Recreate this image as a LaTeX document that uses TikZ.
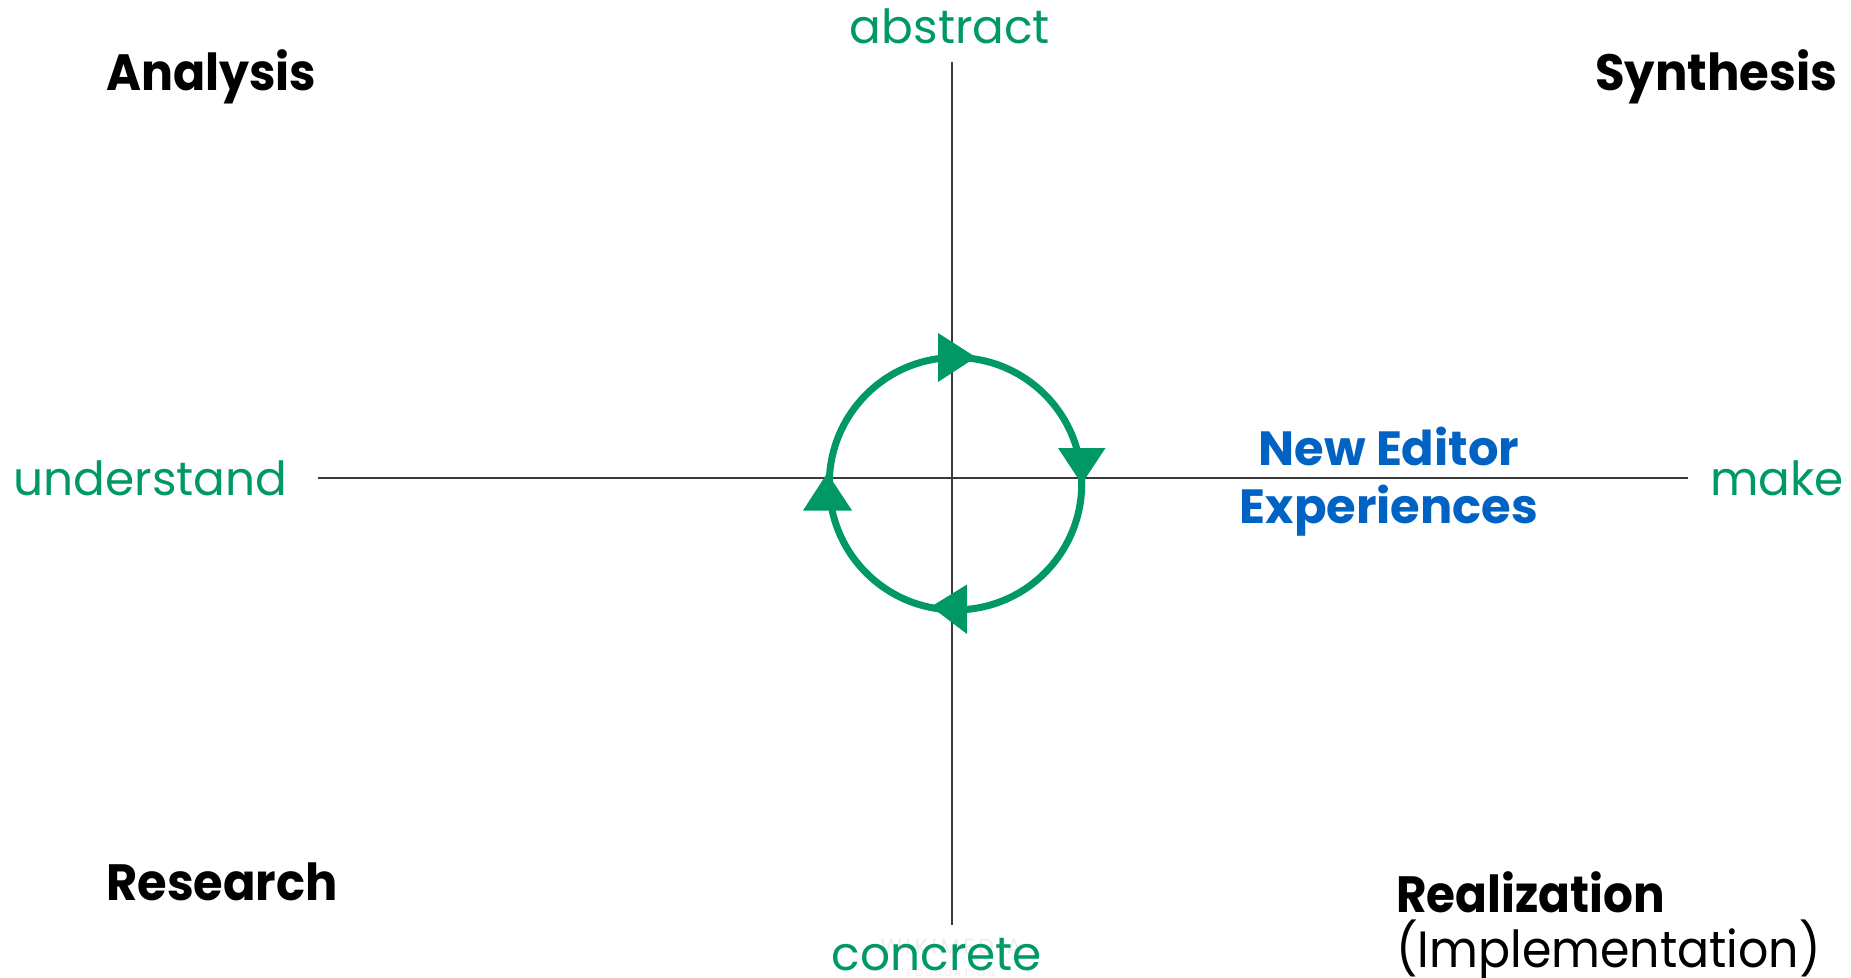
\documentclass[tikz,border=0pt]{standalone}
\usepackage{fontspec}
\setmainfont{Poppins}
\definecolor{wmgreen}{HTML}{009966}
\definecolor{wmblue}{HTML}{0063C4}
\definecolor{axisgray}{HTML}{3A3A3A}
\begin{document}
\begin{tikzpicture}[x=0.5pt,y=-0.5pt,
  quad/.style={inner sep=0pt,font=\fontsize{25.5}{30}\selectfont\bfseries,text=black},
  pole/.style={inner sep=0pt,font=\fontsize{23.5}{28}\selectfont,text=wmgreen},
  axisline/.style={draw=axisgray,line width=1pt},
  cycleline/.style={draw=wmgreen,line width=3.5pt},
  tip/.style={fill=wmgreen}]
\useasboundingbox (0,0) rectangle (1851,978);
\fill[white] (0,0) rectangle (1851,978);
% axes
\coordinate (vtop) at (951.5,62);
\coordinate (vbot) at (951.5,925);
\coordinate (hleft) at (318,478);
\coordinate (hright) at (1688,478);
\draw[axisline] (vtop) -- (vbot);
\draw[axisline] (hleft) -- (hright);
% cycle
\coordinate (c) at (955.5,483.7);
\draw[cycleline] (c) circle[radius=126.2];
\fill[tip] (938,333) -- (938,382) -- (976,357.3) -- cycle;
\fill[tip] (1058,448) -- (1105.5,448) -- (1081.7,484) -- cycle;
\fill[tip] (967,584.5) -- (967,634) -- (931,606.7) -- cycle;
\fill[tip] (803,510.5) -- (852,510.5) -- (827.3,473) -- cycle;
% quadrant labels
\node[quad,anchor=base west,xscale=0.93] (analysis) at (106,91) {Analysis};
\node[quad,anchor=base east,xscale=0.945] (synthesis) at (1838,91) {Synthesis};
\node[quad,anchor=base west,xscale=0.94] (research) at (106,900) {Research};
\node[quad,anchor=base west,xscale=0.92] (realization) at (1396,912) {Realization};
\node[inner sep=0pt,font=\fontsize{25.5}{30}\selectfont,anchor=base west,xscale=0.93] (impl) at (1396,967) {(Implementation)};
% poles
\node[pole,anchor=base] (abstract) at (950,44) {abstract};
\node[pole,anchor=base west] (understand) at (13,495) {understand};
\node[pole,anchor=base west] (make) at (1710,495) {make};
% watermark
\node[inner sep=0pt,font=\fontsize{11}{12}\selectfont,text=black!7,anchor=base] (wm1) at (951,954) {W\,I\,K\,I\,M\,E\,D\,I\,A};
\node[inner sep=0pt,font=\fontsize{5}{6}\selectfont,text=black!7,anchor=base] (wm2) at (951,976) {F\ O\ U\ N\ D\ A\ T\ I\ O\ N};
\node[pole,anchor=base] (concrete) at (937,970) {concrete};
% center label
\node[inner sep=0pt,font=\fontsize{24}{29}\selectfont\bfseries,text=wmblue,align=center,anchor=base] (nee) at (1389,523) {New Editor\\Experiences};
\end{tikzpicture}
\end{document}
